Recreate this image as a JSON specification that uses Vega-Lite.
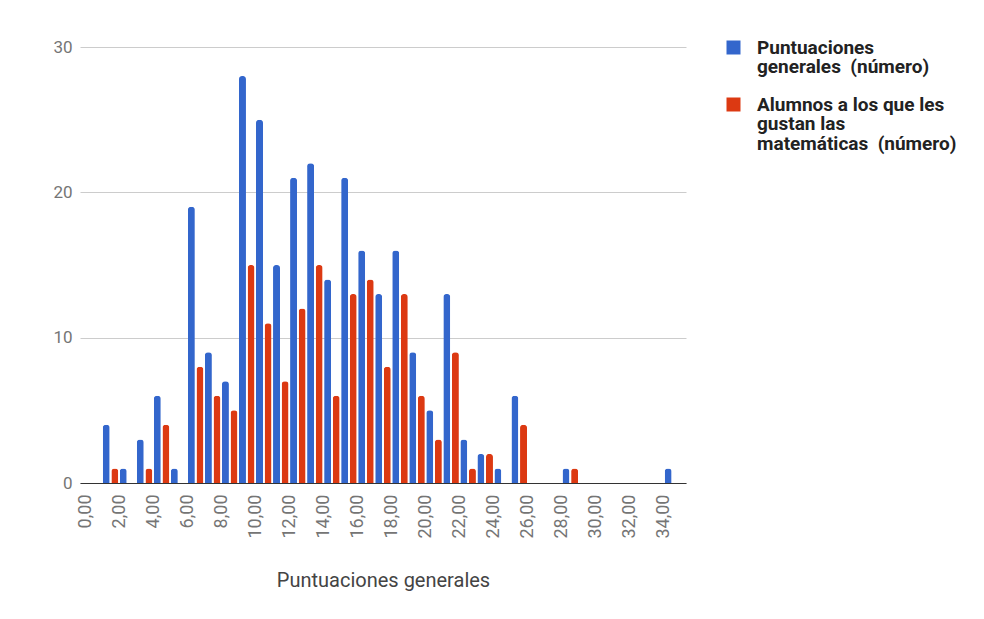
{
  "$schema": "https://vega.github.io/schema/vega-lite/v6.json",
  "autosize": {"type": "none"},
  "width": 606,
  "height": 436,
  "padding": {"left": 80, "top": 47, "right": 298, "bottom": 136},
  "background": "white",
  "config": {
    "view": {"stroke": null},
    "font": "Roboto",
    "style": {"guide-label": {"lineHeight": 19.5}}
  },
  "data": {
    "values": [
      {"x": 1.5, "general": 4, "gustan": 1},
      {"x": 2.5, "general": 1, "gustan": 0},
      {"x": 3.5, "general": 3, "gustan": 1},
      {"x": 4.5, "general": 6, "gustan": 4},
      {"x": 5.5, "general": 1, "gustan": 0},
      {"x": 6.5, "general": 19, "gustan": 8},
      {"x": 7.5, "general": 9, "gustan": 6},
      {"x": 8.5, "general": 7, "gustan": 5},
      {"x": 9.5, "general": 28, "gustan": 15},
      {"x": 10.5, "general": 25, "gustan": 11},
      {"x": 11.5, "general": 15, "gustan": 7},
      {"x": 12.5, "general": 21, "gustan": 12},
      {"x": 13.5, "general": 22, "gustan": 15},
      {"x": 14.5, "general": 14, "gustan": 6},
      {"x": 15.5, "general": 21, "gustan": 13},
      {"x": 16.5, "general": 16, "gustan": 14},
      {"x": 17.5, "general": 13, "gustan": 8},
      {"x": 18.5, "general": 16, "gustan": 13},
      {"x": 19.5, "general": 9, "gustan": 6},
      {"x": 20.5, "general": 5, "gustan": 3},
      {"x": 21.5, "general": 13, "gustan": 9},
      {"x": 22.5, "general": 3, "gustan": 1},
      {"x": 23.5, "general": 2, "gustan": 2},
      {"x": 24.5, "general": 1, "gustan": 0},
      {"x": 25.5, "general": 6, "gustan": 4},
      {"x": 28.5, "general": 1, "gustan": 1},
      {"x": 34.5, "general": 1, "gustan": 0}
    ]
  },
  "encoding": {
    "x": {
      "field": "x",
      "type": "quantitative",
      "scale": {"domain": [0, 35], "nice": false, "zero": true},
      "axis": {
        "values": [0, 2, 4, 6, 8, 10, 12, 14, 16, 18, 20, 22, 24, 26, 28, 30, 32, 34],
        "labelExpr": "replace(format(datum.value, '.2f'), '.', ',')",
        "labelAngle": 270,
        "labelAlign": "right",
        "labelBaseline": "middle",
        "labelFontSize": 18,
        "labelColor": "#757575",
        "labelPadding": 11,
        "ticks": false,
        "grid": false,
        "domainColor": "#333333",
        "domainWidth": 1,
        "title": "Puntuaciones generales",
        "titleFontSize": 20,
        "titleFontWeight": "normal",
        "titleColor": "#444444",
        "titlePadding": 32
      }
    }
  },
  "layer": [
    {
      "mark": {"type": "bar", "size": 7, "xOffset": -4.3, "cornerRadiusEnd": 3},
      "encoding": {
        "y": {
          "field": "general",
          "type": "quantitative",
          "scale": {"domain": [0, 30], "nice": false},
          "axis": {
            "values": [0, 10, 20, 30],
            "title": null,
            "labelFontSize": 17,
            "labelColor": "#757575",
            "labelPadding": 8,
            "ticks": false,
            "domain": false,
            "gridColor": "#cccccc",
            "gridWidth": 1
          }
        },
        "color": {
          "datum": "Puntuaciones generales  (número)",
          "type": "nominal",
          "scale": {
            "domain": ["Puntuaciones generales  (número)", "Alumnos a los que les gustan las matemáticas  (número)"],
            "range": ["#3366cc", "#dc3912"]
          },
          "legend": {
            "title": null,
            "orient": "none",
            "legendX": 644,
            "legendY": -9,
            "symbolType": "square",
            "symbolSize": 196,
            "symbolStrokeWidth": 0,
            "labelFontSize": 19,
            "labelFontWeight": "bold",
            "labelColor": "#222222",
            "labelLimit": 300,
            "labelOffset": 14,
            "rowPadding": 18,
            "labelExpr": "datum.label == 'Puntuaciones generales  (número)' ? ['Puntuaciones', 'generales \u00a0(número)'] : ['Alumnos a los que les', 'gustan las', 'matemáticas \u00a0(número)']"
          }
        }
      }
    },
    {
      "mark": {"type": "bar", "size": 7, "xOffset": 4.3, "cornerRadiusEnd": 3},
      "encoding": {
        "y": {"field": "gustan", "type": "quantitative"},
        "color": {"datum": "Alumnos a los que les gustan las matemáticas  (número)", "type": "nominal"}
      }
    }
  ]
}
